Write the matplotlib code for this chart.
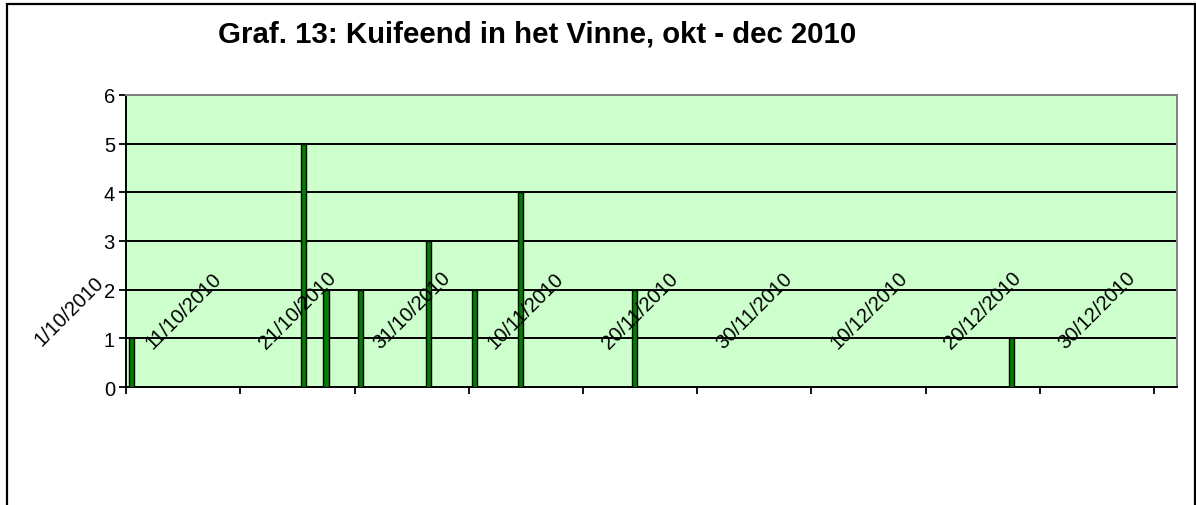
import matplotlib
matplotlib.use('Agg')
import matplotlib.pyplot as plt
import matplotlib.dates as mdates
from matplotlib.patches import Rectangle
from datetime import datetime

# counts per observation date
dates = ['1/10/2010', '16/10/2010', '18/10/2010', '21/10/2010', '27/10/2010',
         '31/10/2010', '4/11/2010', '14/11/2010', '17/12/2010']
counts = [1, 5, 2, 2, 3, 2, 4, 2, 1]

tick_labels = ['1/10/2010', '11/10/2010', '21/10/2010', '31/10/2010', '10/11/2010',
               '20/11/2010', '30/11/2010', '10/12/2010', '20/12/2010', '30/12/2010']
title = 'Graf. 13: Kuifeend in het Vinne, okt - dec 2010'

plt.rcParams['font.family'] = ['Liberation Sans', 'DejaVu Sans']

def to_num(s):
    return mdates.date2num(datetime.strptime(s, '%d/%m/%Y'))

x = [to_num(d) + 0.5 for d in dates]   # bars sit in the middle of the day
ticks = [to_num(t) for t in tick_labels]

fig = plt.figure(figsize=(11.96, 5.06), dpi=100)
ax = fig.add_axes([0.1054, 0.2332, 0.8787, 0.5771])
ax.set_facecolor('#CCFFCC')

ax.bar(x, counts, width=0.45, color='#008000', edgecolor='black', linewidth=1.0, zorder=3)

ax.set_xlim(to_num('1/10/2010'), to_num('1/10/2010') + 92)
ax.set_ylim(0, 6)
ax.set_yticks(range(0, 7))
ax.yaxis.grid(True, color='black', linewidth=1.4, zorder=1)
ax.set_axisbelow(True)

ax.set_xticks(ticks)
ax.set_xticklabels([])
ax.tick_params(axis='x', direction='out', length=5, width=1.3, color='black')
ax.tick_params(axis='y', direction='out', length=5, width=1.3, color='black',
               labelsize=14.5, pad=3)

# Excel put the rotated date labels inside the plot, left of each tick
for t, lab in zip(ticks, tick_labels):
    ax.text(t - 5.0, 1.58, lab, rotation=45, ha='center', va='center',
            fontsize=14.5, zorder=4, clip_on=False)

for side in ['left', 'bottom']:
    ax.spines[side].set_color('black')
    ax.spines[side].set_linewidth(1.4)
for side in ['top', 'right']:
    ax.spines[side].set_color('#808080')
    ax.spines[side].set_linewidth(1.4)

fig.text(0.449, 0.931, title, ha='center', va='center', fontsize=21.2, fontweight='bold')

# outer chart frame (bottom is cut off in the original)
fig.patches.append(Rectangle((6.5 / 1196, -0.05), (1195 - 6.5) / 1196, 1.04,
                             transform=fig.transFigure, fill=False,
                             edgecolor='black', linewidth=1.6))

fig.savefig('out.png', dpi=100)
